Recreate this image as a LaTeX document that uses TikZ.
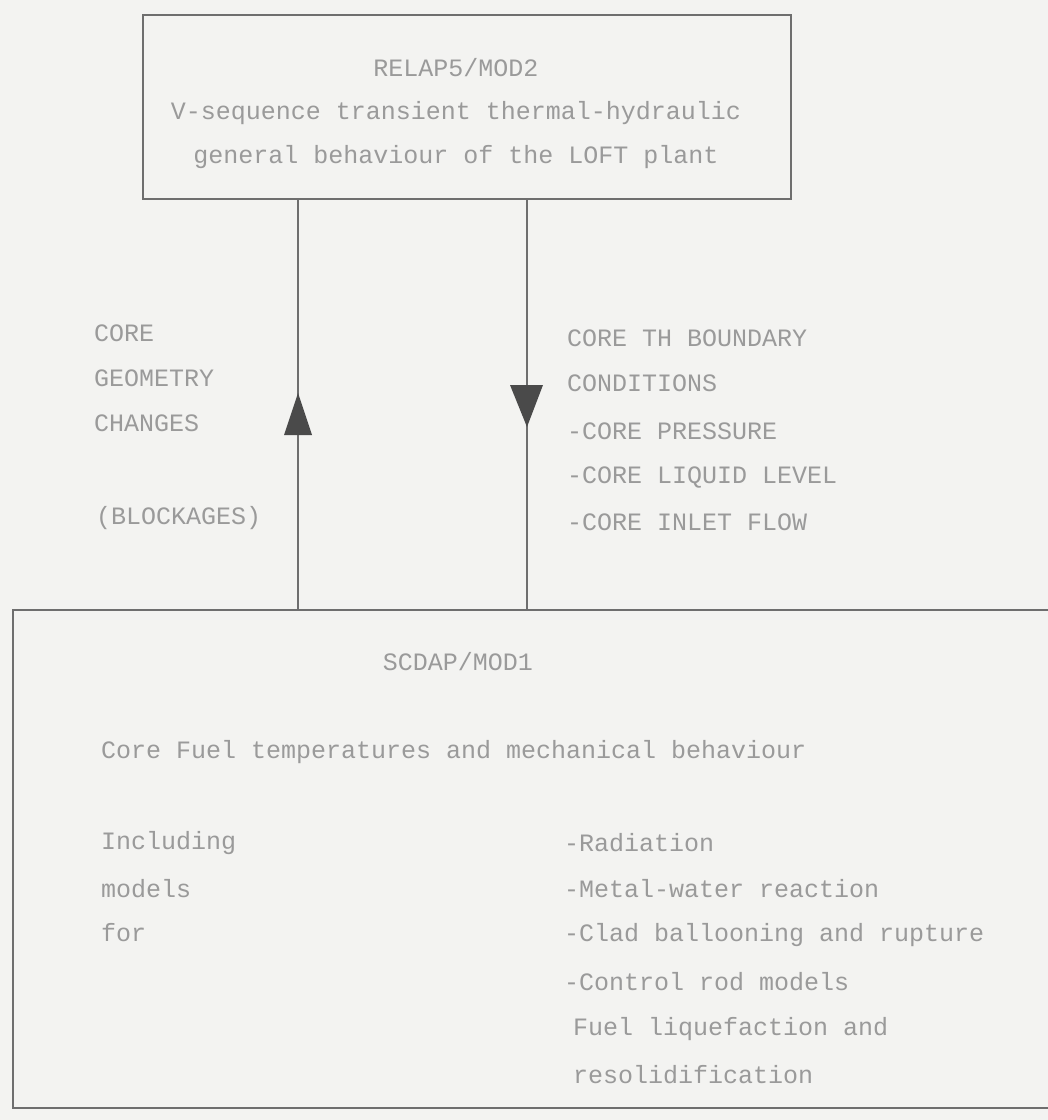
\documentclass[tikz,border=0pt]{standalone}
\usepackage{fontspec}
\setmonofont{Liberation Mono}
\definecolor{paper}{HTML}{F3F3F1}
\definecolor{ink}{HTML}{9A9A9A}
\definecolor{rule}{HTML}{6E6E6E}
\definecolor{head}{HTML}{4A4A4A}
\begin{document}
\begin{tikzpicture}[x=1pt,y=-1pt,
  txt/.style={inner sep=0pt,text=ink,font=\ttfamily\fontsize{25}{29}\selectfont},
  lft/.style={txt,anchor=west},
  ctr/.style={txt,anchor=center},
  boxframe/.style={draw=rule,line width=1.6pt,inner sep=0pt},
  link/.style={draw=rule,line width=1.4pt},
  tip/.style={fill=head}]
\useasboundingbox (0,0) rectangle (1048,1120);
\fill[paper] (0,0) rectangle (1048,1120);
\clip (0,0) rectangle (1048,1120);
% boxes
\node[boxframe,minimum width=648pt,minimum height=184pt] (top) at (467,107) {};
\node[boxframe,minimum width=1047pt,minimum height=498pt] (bot) at (536.5,859) {};
% connector positions
\coordinate (la) at (298,400);
\coordinate (ra) at (527,400);
\draw[link] (bot.north -| la) -- (top.south -| la);
\draw[link] (top.south -| ra) -- (bot.north -| ra);
% arrowheads
\fill[tip] (298,393) -- (284,435) -- (312,435) -- cycle;
\fill[tip] (510,385) -- (543,385) -- (527,427) -- cycle;
% top box text
\node[ctr] (t1) at (456,68) {RELAP5/MOD2};
\node[ctr] (t2) at (456,113) {V-sequence transient thermal-hydraulic};
\node[ctr] (t3) at (456,157) {general behaviour of the LOFT plant};
% left labels
\node[lft] (l1) at (94,333) {CORE};
\node[lft] (l2) at (94,378) {GEOMETRY};
\node[lft] (l3) at (94,423) {CHANGES};
\node[lft] (l4) at (96,518) {(BLOCKAGES)};
% right labels
\node[lft] (r1) at (567,338) {CORE TH BOUNDARY};
\node[lft] (r2) at (567,383) {CONDITIONS};
\node[lft] (r3) at (567,431) {-CORE PRESSURE};
\node[lft] (r4) at (567,477) {-CORE LIQUID LEVEL};
\node[lft] (r5) at (567,522) {-CORE INLET FLOW};
% bottom box text
\node[ctr] (b1) at (458,662) {SCDAP/MOD1};
\node[lft] (b2) at (101,752) {Core Fuel temperatures and mechanical behaviour};
\node[lft] (b3) at (101,843) {Including};
\node[lft] (b4) at (101,889) {models};
\node[lft] (b5) at (101,933) {for};
\node[lft] (c1) at (564,843) {-Radiation};
\node[lft] (c2) at (564,889) {-Metal-water reaction};
\node[lft] (c3) at (564,935) {-Clad ballooning and rupture};
\node[lft] (c4) at (564,982) {-Control rod models};
\node[lft] (c5) at (573,1029) {Fuel liquefaction and};
\node[lft] (c6) at (573,1075) {resolidification};
\end{tikzpicture}
\end{document}
